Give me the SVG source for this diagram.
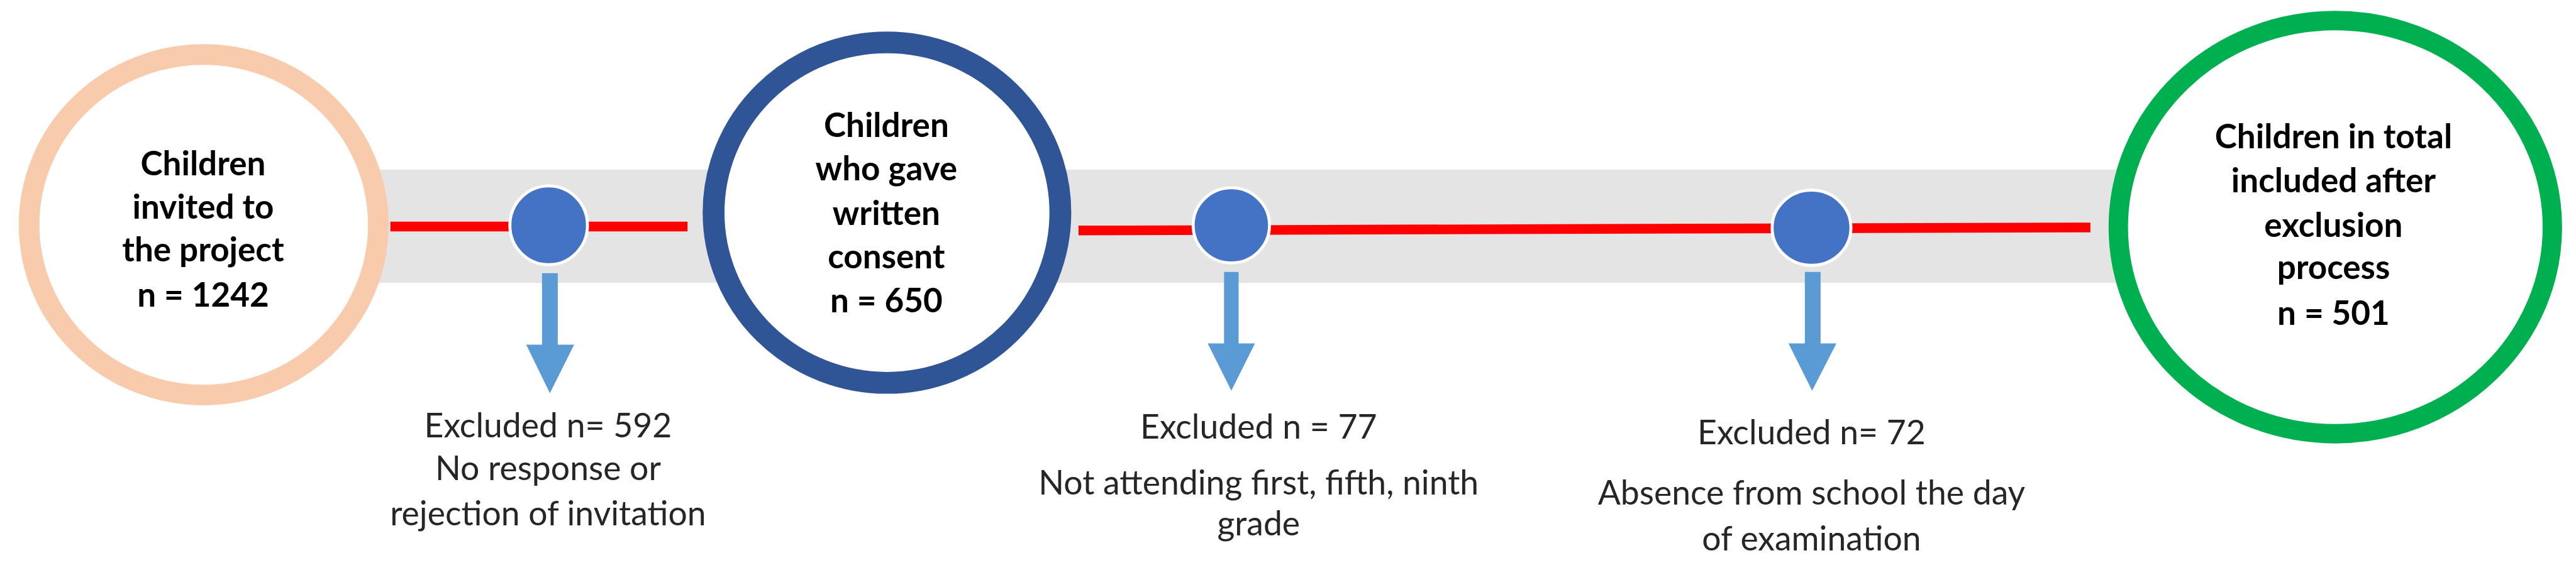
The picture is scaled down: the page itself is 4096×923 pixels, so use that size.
<svg xmlns="http://www.w3.org/2000/svg" width="4096" height="923" viewBox="0 0 4096 923">
<defs>
<style>
.band{fill:#E4E4E4}
.red{stroke:#FF0000;stroke-width:16;fill:none}
.dot{fill:#4472C4;stroke:#FFFFFF;stroke-width:5}
.arrow{fill:#5B9BD5}
.ring{fill:#FFFFFF}
.nt{font-family:Lato,"Liberation Sans",sans-serif;font-weight:bold;font-size:55px;fill:#000000;text-anchor:middle}
.lt{font-family:Lato,"Liberation Sans",sans-serif;font-size:55.5px;fill:#262626;text-anchor:middle}
</style>
</defs>
<rect width="4096" height="923" fill="#FFFFFF"/>
<g transform="scale(0.964)">
<rect class="band" x="336" y="280" width="3516" height="187"/>
<g id="connectors">
<line class="red" x1="644" y1="374" x2="1134" y2="374"/>
<line class="red" x1="1779" y1="380.5" x2="3448" y2="375.5"/>
<ellipse id="dot1" class="dot" cx="905" cy="372" rx="64" ry="65"/>
<ellipse id="dot2" class="dot" cx="2031" cy="372" rx="63" ry="62"/>
<ellipse id="dot3" class="dot" cx="2988" cy="376" rx="65" ry="62"/>
<path id="arrow1" class="arrow" d="M894,451 H920 V569 H947 L907,649 L868,569 H894 Z"/>
<path id="arrow2" class="arrow" d="M2019,449 H2043 V567 H2070 L2031,645 L1992,567 H2019 Z"/>
<path id="arrow3" class="arrow" d="M2977,449 H3003 V567 H3029 L2989,645 L2950,567 H2977 Z"/>
</g>
<g id="node-invited">
<ellipse class="ring" cx="336" cy="371" rx="288" ry="281" stroke="#F8CBAD" stroke-width="34"/>
<text class="nt"><tspan x="335" y="289">Children</tspan><tspan x="335" y="361">invited to</tspan><tspan x="335" y="432">the project</tspan><tspan x="335" y="506">n = 1242</tspan></text>
</g>
<g id="node-consent">
<ellipse class="ring" cx="1463" cy="351" rx="286" ry="281" stroke="#2F5597" stroke-width="36"/>
<text class="nt"><tspan x="1462" y="226">Children</tspan><tspan x="1462" y="298">who gave</tspan><tspan x="1462" y="371">written</tspan><tspan x="1462" y="443">consent</tspan><tspan x="1462" y="516">n = 650</tspan></text>
</g>
<g id="node-included">
<ellipse class="ring" cx="3852" cy="375" rx="358" ry="341" stroke="#00B050" stroke-width="32"/>
<text class="nt"><tspan x="3849" y="245">Children in total</tspan><tspan x="3849" y="317">included after</tspan><tspan x="3849" y="391">exclusion</tspan><tspan x="3849" y="461">process</tspan><tspan x="3849" y="536">n = 501</tspan></text>
</g>
<g id="label-excl1">
<text class="lt"><tspan x="904" y="722">Excluded n= 592</tspan><tspan x="904" y="793">No response or</tspan><tspan x="904" y="867">rejection of invitation</tspan></text>
</g>
<g id="label-excl2">
<text class="lt"><tspan x="2076" y="724">Excluded n = 77</tspan><tspan x="2076" y="816">Not attending first, fifth, ninth</tspan><tspan x="2076" y="884">grade</tspan></text>
</g>
<g id="label-excl3">
<text class="lt"><tspan x="2988" y="733">Excluded n= 72</tspan><tspan x="2988" y="833">Absence from school the day</tspan><tspan x="2988" y="909">of examination</tspan></text>
</g>
</g>
</svg>
